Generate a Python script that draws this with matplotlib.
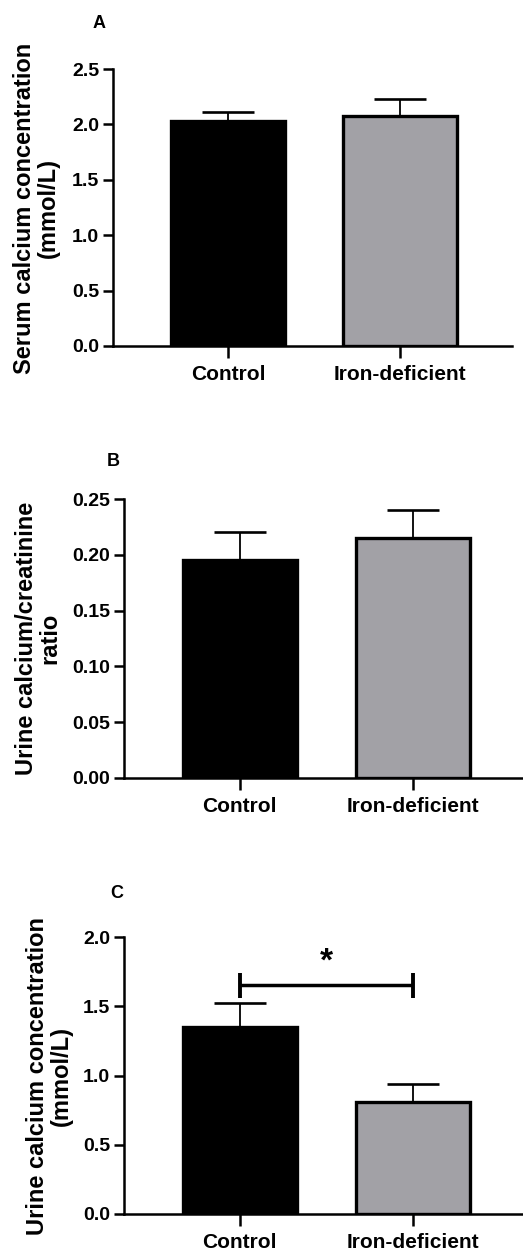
import matplotlib
matplotlib.use("Agg")
import matplotlib.pyplot as plt

plt.rcParams['font.family'] = ['Liberation Sans', 'DejaVu Sans']
plt.rcParams['font.weight'] = 'bold'

groups = ["Control", "Iron-deficient"]
bar_colors = ["#000000", "#a2a1a6"]

serum_ca = [2.03, 2.08]
serum_ca_err = [0.08, 0.15]

urine_ratio = [0.195, 0.215]
urine_ratio_err = [0.025, 0.025]

urine_ca = [1.35, 0.81]
urine_ca_err = [0.17, 0.13]

serum_ticks = [0.0, 0.5, 1.0, 1.5, 2.0, 2.5]
ratio_ticks = [0.00, 0.05, 0.10, 0.15, 0.20, 0.25]
urine_ticks = [0.0, 0.5, 1.0, 1.5, 2.0]

sig_y = 1.65
sig_label = "*"

W, H = 523, 1252
DPI = 100
fig = plt.figure(figsize=(W / DPI, H / DPI), dpi=DPI)


def px_axes(left, top, right, bottom):
    return fig.add_axes([left / W, 1 - bottom / H, (right - left) / W, (bottom - top) / H])


def draw_panel(ax, values, errs, ticks, fmt):
    x = list(range(len(values)))
    ax.errorbar(x, values, yerr=[[0] * len(errs), errs], fmt="none",
                ecolor="black", elinewidth=1.3, capsize=19, capthick=1.9, zorder=1)
    ax.bar(x, values, width=0.66, color=bar_colors, edgecolor="black",
           linewidth=2.4, zorder=2)
    ax.set_xlim(-0.67, 1.65)
    ax.set_ylim(ticks[0], ticks[-1])
    ax.set_yticks(ticks)
    ax.set_yticklabels([fmt.format(t) for t in ticks], fontsize=14, fontweight="bold")
    ax.set_xticks(x)
    ax.set_xticklabels(groups, fontsize=15, fontweight="bold")
    for side in ("top", "right"):
        ax.spines[side].set_visible(False)
    for side in ("left", "bottom"):
        ax.spines[side].set_linewidth(1.8)
    ax.spines["left"].set_bounds(ticks[0], ticks[-1])
    ax.tick_params(axis="y", length=7.5, width=1.8, pad=2.5)
    ax.tick_params(axis="x", length=8.5, width=1.8, pad=5)
    ax.patch.set_alpha(0)


# Panel A: serum calcium
axA = px_axes(113, 69, 512, 346)
draw_panel(axA, serum_ca, serum_ca_err, serum_ticks, "{:.1f}")
fig.text(36 / W, 1 - 208 / H, "Serum calcium concentration\n(mmol/L)", rotation=90,
         ha="center", va="center", fontsize=17, fontweight="bold", linespacing=1.05)
fig.text(99 / W, 1 - 23 / H, "A", ha="center", va="center", fontsize=13, fontweight="bold")

# Panel B: urine calcium/creatinine ratio
axB = px_axes(124, 499, 525, 778)
draw_panel(axB, urine_ratio, urine_ratio_err, ratio_ticks, "{:.2f}")
fig.text(38 / W, 1 - 638 / H, "Urine calcium/creatinine\nratio", rotation=90,
         ha="center", va="center", fontsize=17, fontweight="bold", linespacing=1.05)
fig.text(113 / W, 1 - 462 / H, "B", ha="center", va="center", fontsize=13, fontweight="bold")

# Panel C: urine calcium with significance bracket
axC = px_axes(124, 937, 525, 1214)
draw_panel(axC, urine_ca, urine_ca_err, urine_ticks, "{:.1f}")
axC.plot([0, 1], [sig_y, sig_y], color="black", lw=2.5, solid_capstyle="butt", zorder=3)
cap_h = 0.087
for xe in (0, 1):
    axC.plot([xe, xe], [sig_y - cap_h, sig_y + cap_h], color="black", lw=2.8,
             solid_capstyle="butt", zorder=3)
axC.text(0.5, sig_y + 0.06, sig_label, ha="center", va="bottom", fontsize=24,
         fontweight="bold")
fig.text(49 / W, 1 - 1076 / H, "Urine calcium concentration\n(mmol/L)", rotation=90,
         ha="center", va="center", fontsize=17, fontweight="bold", linespacing=1.05)
fig.text(117 / W, 1 - 894 / H, "C", ha="center", va="center", fontsize=13, fontweight="bold")

fig.savefig("out.png", dpi=DPI, facecolor="white")
